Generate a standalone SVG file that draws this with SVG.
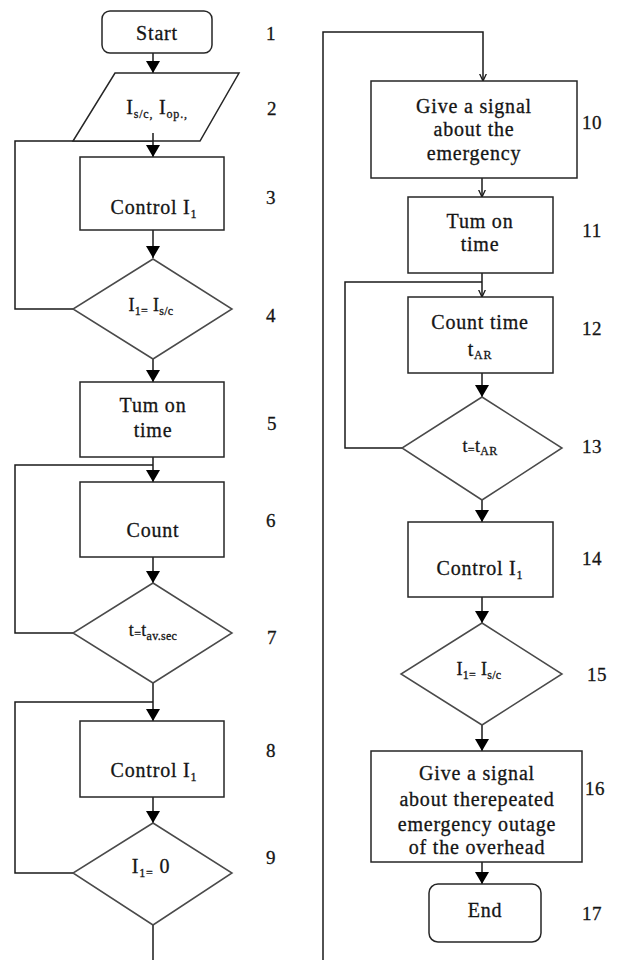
<svg xmlns="http://www.w3.org/2000/svg" width="617" height="960" viewBox="0 0 617 960">
<defs>
<style>
.shape{fill:#fff;stroke:#262626;stroke-width:1.5}
.dia{fill:#fff;stroke:#4a4a4a;stroke-width:1.5}
.ln{fill:none;stroke:#1a1a1a;stroke-width:1.5}
.big{marker-end:url(#ah)}
.sm{marker-end:url(#sa)}
text{font-family:'Liberation Serif','DejaVu Serif',serif;fill:#151515;stroke:#151515;stroke-width:0.3;font-size:20px;text-anchor:middle;letter-spacing:0.8px}
.num{font-size:19px;letter-spacing:0.5px}
.dt{font-size:18px;letter-spacing:0.3px}
.sub{font-size:12px}
</style>
<marker id="ah" markerUnits="userSpaceOnUse" viewBox="0 0 12 14" refX="12" refY="7" markerWidth="12" markerHeight="14" orient="auto">
<path d="M0,0 L12,7 L0,14 z" fill="#000"/>
</marker>
<marker id="sa" markerUnits="userSpaceOnUse" viewBox="0 0 8 8" refX="7.5" refY="4" markerWidth="8" markerHeight="8" orient="auto">
<path d="M0,0.5 L7.5,4 L0,7.5" fill="none" stroke="#1a1a1a" stroke-width="1.3"/>
</marker>
</defs>
<rect width="617" height="960" fill="#fff"/>

<g id="connectors">
<line class="ln big" x1="153" y1="53" x2="153" y2="73"/>
<line class="ln big" x1="153" y1="133" x2="153" y2="157"/>
<polyline class="ln" points="73,309 15,309 15,141 153,141"/>
<line class="ln big" x1="153" y1="230" x2="153" y2="258"/>
<line class="ln big" x1="153" y1="359" x2="153" y2="382"/>
<line class="ln big" x1="153" y1="457" x2="153" y2="482"/>
<polyline class="ln" points="73,633 15,633 15,465 153,465"/>
<line class="ln big" x1="153" y1="557" x2="153" y2="583"/>
<line class="ln big" x1="153" y1="683" x2="153" y2="721"/>
<polyline class="ln" points="73,873 15,873 15,702 153,702"/>
<line class="ln big" x1="153" y1="797" x2="153" y2="823"/>
<line class="ln" x1="153" y1="925" x2="153" y2="960"/>
<polyline class="ln sm" points="323,960 323,32 483,32 483,81"/>
<line class="ln sm" x1="482" y1="178" x2="482" y2="197"/>
<line class="ln sm" x1="482" y1="273" x2="482" y2="297"/>
<polyline class="ln" points="402,448 345,448 345,282 482,282"/>
<line class="ln big" x1="482" y1="373" x2="482" y2="397"/>
<line class="ln big" x1="482" y1="500" x2="482" y2="522"/>
<line class="ln big" x1="482" y1="597" x2="482" y2="623"/>
<line class="ln big" x1="482" y1="725" x2="482" y2="751"/>
<line class="ln big" x1="482" y1="862" x2="482" y2="884"/>
</g>

<g id="n1">
<rect class="shape" x="102" y="11" width="110" height="42" rx="8"/>
<text x="157" y="40">Start</text>
</g>
<g id="n2">
<polygon class="shape" points="115,73 239,73 200,141 73,141"/>
<line class="ln" x1="153" y1="133" x2="153" y2="141"/>
<text x="157" y="114">I<tspan class="sub" dy="4">s/c,</tspan><tspan dy="-4"> I</tspan><tspan class="sub" dy="4">op.,</tspan></text>
</g>
<g id="n3">
<rect class="shape" x="80" y="157" width="144" height="73"/>
<text x="154" y="214">Control I<tspan class="sub" dy="4">1</tspan></text>
</g>
<g id="n4">
<polygon class="dia" points="153,259 232,309 153,359 73,309"/>
<text class="dt" x="151" y="311">I<tspan class="sub" dy="4">1=</tspan><tspan dy="-4"> I</tspan><tspan class="sub" dy="4">s/c</tspan></text>
</g>
<g id="n5">
<rect class="shape" x="80" y="382" width="144" height="75"/>
<text x="153" y="412">Tum on</text>
<text x="153" y="437">time</text>
</g>
<g id="n6">
<rect class="shape" x="80" y="482" width="144" height="75"/>
<text x="153" y="537">Count</text>
</g>
<g id="n7">
<polygon class="dia" points="153,583 232,633 153,683 73,633"/>
<text class="dt" x="153" y="636">t<tspan class="sub" dy="2">=</tspan><tspan dy="-2">t</tspan><tspan class="sub" dy="4">av.sec</tspan></text>
</g>
<g id="n8">
<rect class="shape" x="80" y="721" width="144" height="76"/>
<text x="154" y="777">Control I<tspan class="sub" dy="4">1</tspan></text>
</g>
<g id="n9">
<polygon class="dia" points="153,823 232,873 153,925 73,873"/>
<text x="151" y="873">I<tspan class="sub" dy="4">1=</tspan><tspan dy="-4"> 0</tspan></text>
</g>
<g id="n10">
<rect class="shape" x="371" y="81" width="206" height="97"/>
<text x="474" y="113">Give a signal</text>
<text x="474" y="136">about the</text>
<text x="474" y="160">emergency</text>
</g>
<g id="n11">
<rect class="shape" x="408" y="197" width="145" height="76"/>
<text x="480" y="228">Tum on</text>
<text x="480" y="251">time</text>
</g>
<g id="n12">
<rect class="shape" x="408" y="297" width="145" height="76"/>
<text x="480" y="329">Count time</text>
<text x="480" y="356">t<tspan class="sub" dy="3">AR</tspan></text>
</g>
<g id="n13">
<polygon class="dia" points="482,397 562,448 482,500 402,448"/>
<text class="dt" x="480" y="452">t<tspan class="sub" dy="2">=</tspan><tspan dy="-2">t</tspan><tspan class="sub" dy="3">AR</tspan></text>
</g>
<g id="n14">
<rect class="shape" x="408" y="522" width="145" height="75"/>
<text x="480" y="575">Control I<tspan class="sub" dy="4">1</tspan></text>
</g>
<g id="n15">
<polygon class="dia" points="482,623 562,674 482,725 401,674"/>
<text class="dt" x="479" y="675">I<tspan class="sub" dy="4">1=</tspan><tspan dy="-4"> I</tspan><tspan class="sub" dy="4">s/c</tspan></text>
</g>
<g id="n16">
<rect class="shape" x="371" y="751" width="211" height="111"/>
<text x="477" y="780">Give a signal</text>
<text x="477" y="806">about therepeated</text>
<text x="477" y="831">emergency outage</text>
<text x="477" y="854">of the overhead</text>
</g>
<g id="n17">
<rect class="shape" x="429" y="884" width="112" height="58" rx="9"/>
<text x="485" y="917">End</text>
</g>

<g id="labels">
<text class="num" x="271" y="40">1</text>
<text class="num" x="272" y="115">2</text>
<text class="num" x="271" y="204">3</text>
<text class="num" x="271" y="322">4</text>
<text class="num" x="272" y="430">5</text>
<text class="num" x="271" y="527">6</text>
<text class="num" x="272" y="644">7</text>
<text class="num" x="271" y="757">8</text>
<text class="num" x="271" y="864">9</text>
<text class="num" x="592" y="129">10</text>
<text class="num" x="592" y="237">11</text>
<text class="num" x="592" y="335">12</text>
<text class="num" x="592" y="453">13</text>
<text class="num" x="592" y="565">14</text>
<text class="num" x="597" y="681">15</text>
<text class="num" x="595" y="795">16</text>
<text class="num" x="592" y="920">17</text>
</g>
</svg>
